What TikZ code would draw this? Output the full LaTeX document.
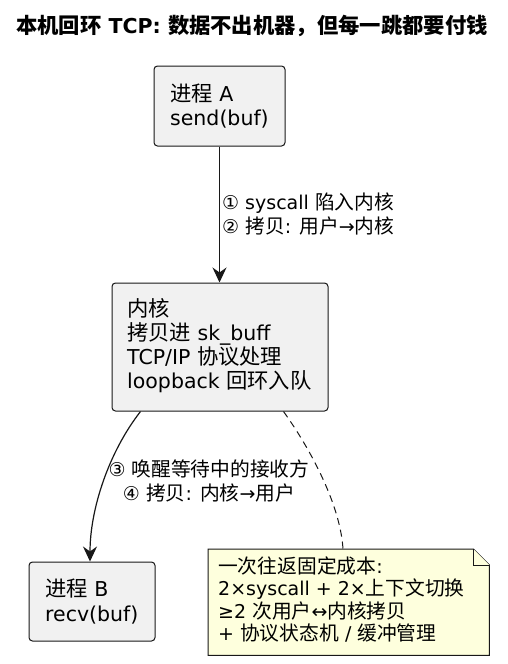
\documentclass[tikz,border=0pt]{standalone}
\usepackage{fontspec}
\setmainfont{DejaVu Sans}
\newfontfamily\cjk[Scale=1.04]{Noto Sans CJK SC}
\usetikzlibrary{arrows.meta,calc}
\newcommand\zhtxt[1]{{\cjk #1}}
\definecolor{boxfill}{HTML}{F1F1F1}
\definecolor{boxline}{HTML}{181818}
\definecolor{notefill}{HTML}{FEFFDD}
\begin{document}
\begin{tikzpicture}[x=1pt,y=-1pt,
  procbox/.style={draw=boxline, fill=boxfill, line width=1pt, rounded corners=3.5pt, inner sep=0pt},
  notebox/.style={inner sep=0pt},
  notedraw/.style={draw=boxline, fill=notefill, line width=1pt, line join=miter},
  boxtext/.style={inner sep=0pt, anchor=base west, font=\fontsize{20.5}{24.5}\selectfont},
  lbltext/.style={inner sep=0pt, font=\fontsize{19}{24}\selectfont},
  notetext/.style={inner sep=0pt, anchor=base west, font=\fontsize{19}{22.5}\selectfont},
  flow/.style={draw=boxline, line width=1.2pt, -{Stealth[length=15pt,width=14pt,inset=5pt]}},
  notelink/.style={draw=boxline, line width=1pt, dash pattern=on 7pt off 5pt}
]
\useasboundingbox (0,0) rectangle (507,664);

% title
\node[inner sep=0pt, anchor=base west, font=\fontsize{20.5}{26}\selectfont\bfseries] (title) at (16,33)
  {\zhtxt{本机回环} TCP: \zhtxt{数据不出机器，但每一跳都要付钱}};

% boxes
\node[procbox, minimum width=131, minimum height=80] (A) at (219.5,106) {};
\node[boxtext] (At) at (170,101) {\vtop{\hbox{\zhtxt{进程} A}\hbox{send(buf)}}};

\node[procbox, minimum width=216, minimum height=128] (K) at (220,347) {};
\node[boxtext, font=\fontsize{20.5}{24.3}\selectfont] (Kt) at (127,316)
  {\vtop{\hbox{\zhtxt{内核}}\hbox{\zhtxt{拷贝进} sk\_buff}\hbox{TCP/IP \zhtxt{协议处理}}\hbox{loopback \zhtxt{回环入队}}}};

\node[procbox, minimum width=126, minimum height=79] (B) at (92,601.5) {};
\node[boxtext] (Bt) at (45,596.5) {\vtop{\hbox{\zhtxt{进程} B}\hbox{recv(buf)}}};

% note
\node[notebox, minimum width=281, minimum height=106, anchor=north west] (N) at (208,549) {};
\draw[notedraw] (N.north west) -- ($(N.north east)+(-16,0)$) -- ($(N.north east)+(0,16)$)
  -- (N.south east) -- (N.south west) -- cycle;
\draw[notedraw] ($(N.north east)+(-16,0)$) -- ($(N.north east)+(-16,16)$) -- ($(N.north east)+(0,16)$);
\node[notetext] (Nt) at (218,573)
  {\vtop{\hbox{\zhtxt{一次往返固定成本}:}\hbox{2×syscall + 2×\zhtxt{上下文切换}}\hbox{≥2 \zhtxt{次用户}↔\zhtxt{内核拷贝}}\hbox{+ \zhtxt{协议状态机} / \zhtxt{缓冲管理}}}};

% connectors
\draw[flow] (A.south) -- (A.south |- K.north);
\node[lbltext, anchor=base west] (L1) at (222,209)
  {\vtop{\hbox{① syscall \zhtxt{陷入内核}}\hbox{② \zhtxt{拷贝}: \zhtxt{用户}→\zhtxt{内核}}}};

\draw[flow] ($(K.south west)+(29,0)$) .. controls ($(K.south west)+(-3,41)$) and ($(B.north)+(-2,-52)$) .. ($(B.north)+(-2,0)$);
\node[lbltext, anchor=base] (L2) at (209,476)
  {\vtop{\halign{\hfil#\hfil\cr ③ \zhtxt{唤醒等待中的接收方}\cr ④ \zhtxt{拷贝}: \zhtxt{内核}→\zhtxt{用户}\cr}}};

\draw[notelink] ($(K.south west)+(172,0)$) .. controls ($(K.south west)+(193,29)$) and ($(N.north west)+(132,-49)$) .. ($(N.north west)+(135,0)$);
\end{tikzpicture}
\end{document}
